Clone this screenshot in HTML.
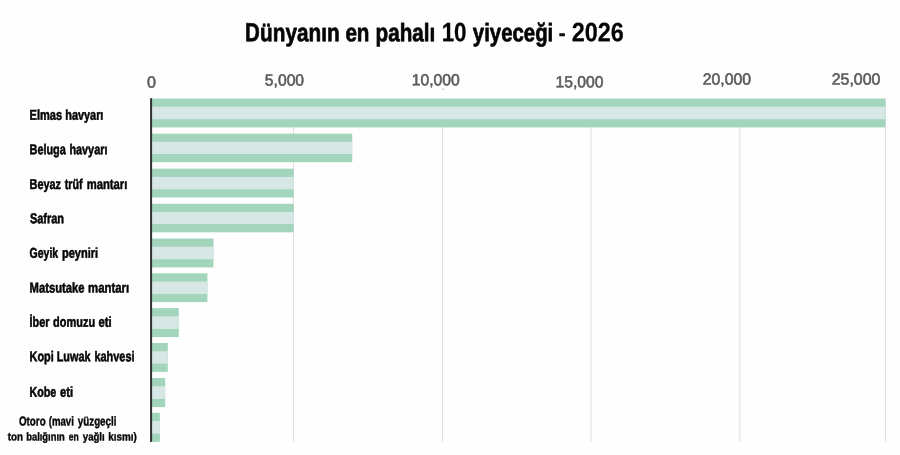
<!DOCTYPE html>
<html lang="tr">
<head>
<meta charset="utf-8">
<title>Dünyanın en pahalı 10 yiyeceği - 2026</title>
<style>
html,body{margin:0;padding:0;background:#fefefe;}
body{width:900px;height:455px;overflow:hidden;font-family:"Liberation Sans",sans-serif;}
svg{display:block;font-family:"Liberation Sans",sans-serif;}
#text{will-change:transform;}
</style>
</head>
<body>
<svg width="900" height="455" viewBox="0 0 900 455" role="img" aria-label="Dünyanın en pahalı 10 yiyeceği - 2026">
<rect width="900" height="455" fill="#fefefe"/>
<g id="grid-bars">
<rect x="293.00" y="98.4" width="1" height="343.5" fill="#dedede"/>
<rect x="441.90" y="98.4" width="1" height="343.5" fill="#dedede"/>
<rect x="590.50" y="98.4" width="1" height="343.5" fill="#dedede"/>
<rect x="739.30" y="98.4" width="1" height="343.5" fill="#dedede"/>
<rect x="885.00" y="98.4" width="1" height="343.5" fill="#dedede"/>
<rect x="151" y="98.50" width="734.40" height="28.90" fill="#a3d5bd"/>
<rect x="151" y="106.70" width="734.40" height="12.50" fill="#d6e7e5"/>
<rect x="151" y="133.60" width="201.20" height="28.60" fill="#a3d5bd"/>
<rect x="151" y="141.80" width="201.20" height="12.20" fill="#d6e7e5"/>
<rect x="151" y="168.70" width="142.60" height="28.80" fill="#a3d5bd"/>
<rect x="151" y="176.90" width="142.60" height="12.40" fill="#d6e7e5"/>
<rect x="151" y="203.80" width="142.60" height="28.50" fill="#a3d5bd"/>
<rect x="151" y="212.00" width="142.60" height="12.10" fill="#d6e7e5"/>
<rect x="151" y="238.50" width="62.50" height="28.90" fill="#a3d5bd"/>
<rect x="151" y="246.70" width="62.50" height="12.50" fill="#d6e7e5"/>
<rect x="151" y="273.30" width="56.40" height="28.80" fill="#a3d5bd"/>
<rect x="151" y="281.50" width="56.40" height="12.40" fill="#d6e7e5"/>
<rect x="151" y="308.10" width="27.80" height="29.00" fill="#a3d5bd"/>
<rect x="151" y="316.30" width="27.80" height="12.60" fill="#d6e7e5"/>
<rect x="151" y="343.00" width="16.80" height="28.90" fill="#a3d5bd"/>
<rect x="151" y="351.20" width="16.80" height="12.50" fill="#d6e7e5"/>
<rect x="151" y="378.00" width="14.20" height="29.10" fill="#a3d5bd"/>
<rect x="151" y="386.20" width="14.20" height="12.70" fill="#d6e7e5"/>
<rect x="151" y="412.80" width="8.90" height="29.10" fill="#a3d5bd"/>
<rect x="151" y="421.00" width="8.90" height="12.70" fill="#d6e7e5"/>
<rect x="150.1" y="98.2" width="2" height="343.7" fill="#303030"/>
<circle cx="443.2" cy="89.2" r="0.7" fill="#9a9a9a"/>
</g>
<g id="text">
<text transform="translate(244.93 41.30) scale(0.7821 1) rotate(0.03)" font-size="26.3" font-weight="bold" fill="#050505" stroke="#050505" stroke-width="0.6" stroke-linejoin="round">D</text>
<text transform="translate(260.07 41.30) scale(0.8201 1) rotate(0.03)" font-size="25.3" font-weight="bold" fill="#050505" stroke="#050505" stroke-width="0.7" stroke-linejoin="round">ünyanın</text>
<text transform="translate(345.39 41.30) scale(0.8145 1) rotate(0.03)" font-size="25.3" font-weight="bold" fill="#050505" stroke="#050505" stroke-width="0.7" stroke-linejoin="round">en</text>
<text transform="translate(375.58 41.30) scale(0.8170 1) rotate(0.03)" font-size="25.3" font-weight="bold" fill="#050505" stroke="#050505" stroke-width="0.7" stroke-linejoin="round">pahalı</text>
<text transform="translate(441.63 41.30) scale(0.8440 1) rotate(0.03)" font-size="26.6" font-weight="bold" fill="#050505" stroke="#050505" stroke-width="0.25" stroke-linejoin="round">10</text>
<text transform="translate(472.80 41.30) scale(0.8061 1) rotate(0.03)" font-size="25.3" font-weight="bold" fill="#050505" stroke="#050505" stroke-width="0.7" stroke-linejoin="round">yiyeceği</text>
<text transform="translate(558.44 41.30) scale(0.8615 1) rotate(0.03)" font-size="25.3" font-weight="bold" fill="#050505" stroke="#050505" stroke-width="0.1" stroke-linejoin="round">-</text>
<text transform="translate(571.74 41.30) scale(0.8800 1) rotate(0.03)" font-size="26.6" font-weight="bold" fill="#050505" stroke="#050505" stroke-width="0.25" stroke-linejoin="round">2026</text>
<text transform="translate(29.52 119.75) scale(0.7732 1) rotate(0.03)" font-size="14.3" font-weight="bold" fill="#050505" stroke="#050505" stroke-width="0.55" stroke-linejoin="round">Elmas</text>
<text transform="translate(65.23 119.75) scale(0.7631 1) rotate(0.03)" font-size="14.3" font-weight="bold" fill="#050505" stroke="#050505" stroke-width="0.55" stroke-linejoin="round">havyarı</text>
<text transform="translate(29.53 154.15) scale(0.7619 1) rotate(0.03)" font-size="14.3" font-weight="bold" fill="#050505" stroke="#050505" stroke-width="0.55" stroke-linejoin="round">Beluga</text>
<text transform="translate(69.43 154.15) scale(0.7590 1) rotate(0.03)" font-size="14.3" font-weight="bold" fill="#050505" stroke="#050505" stroke-width="0.55" stroke-linejoin="round">havyarı</text>
<text transform="translate(29.53 189.05) scale(0.7627 1) rotate(0.03)" font-size="14.3" font-weight="bold" fill="#050505" stroke="#050505" stroke-width="0.55" stroke-linejoin="round">Beyaz</text>
<text transform="translate(64.70 189.05) scale(0.7546 1) rotate(0.03)" font-size="14.3" font-weight="bold" fill="#050505" stroke="#050505" stroke-width="0.55" stroke-linejoin="round">trüf</text>
<text transform="translate(86.71 189.05) scale(0.7861 1) rotate(0.03)" font-size="14.3" font-weight="bold" fill="#050505" stroke="#050505" stroke-width="0.55" stroke-linejoin="round">mantarı</text>
<text transform="translate(29.91 223.25) scale(0.7680 1) rotate(0.03)" font-size="14.3" font-weight="bold" fill="#050505" stroke="#050505" stroke-width="0.55" stroke-linejoin="round">Safran</text>
<text transform="translate(29.52 257.75) scale(0.7359 1) rotate(0.03)" font-size="14.3" font-weight="bold" fill="#050505" stroke="#050505" stroke-width="0.55" stroke-linejoin="round">Geyik</text>
<text transform="translate(61.92 257.75) scale(0.7736 1) rotate(0.03)" font-size="14.3" font-weight="bold" fill="#050505" stroke="#050505" stroke-width="0.55" stroke-linejoin="round">peyniri</text>
<text transform="translate(29.51 292.55) scale(0.7870 1) rotate(0.03)" font-size="14.3" font-weight="bold" fill="#050505" stroke="#050505" stroke-width="0.55" stroke-linejoin="round">Matsutake</text>
<text transform="translate(88.10 292.55) scale(0.7960 1) rotate(0.03)" font-size="14.3" font-weight="bold" fill="#050505" stroke="#050505" stroke-width="0.55" stroke-linejoin="round">mantarı</text>
<text transform="translate(29.53 326.85) scale(0.7569 1) rotate(0.03)" font-size="14.3" font-weight="bold" fill="#050505" stroke="#050505" stroke-width="0.55" stroke-linejoin="round">İber</text>
<text transform="translate(53.11 326.85) scale(0.7667 1) rotate(0.03)" font-size="14.3" font-weight="bold" fill="#050505" stroke="#050505" stroke-width="0.55" stroke-linejoin="round">domuzu</text>
<text transform="translate(98.50 326.85) scale(0.7937 1) rotate(0.03)" font-size="14.3" font-weight="bold" fill="#050505" stroke="#050505" stroke-width="0.55" stroke-linejoin="round">eti</text>
<text transform="translate(29.53 361.25) scale(0.7636 1) rotate(0.03)" font-size="14.3" font-weight="bold" fill="#050505" stroke="#050505" stroke-width="0.55" stroke-linejoin="round">Kopi</text>
<text transform="translate(56.73 361.25) scale(0.7614 1) rotate(0.03)" font-size="14.3" font-weight="bold" fill="#050505" stroke="#050505" stroke-width="0.55" stroke-linejoin="round">Luwak</text>
<text transform="translate(94.43 361.25) scale(0.7647 1) rotate(0.03)" font-size="14.3" font-weight="bold" fill="#050505" stroke="#050505" stroke-width="0.55" stroke-linejoin="round">kahvesi</text>
<text transform="translate(29.54 396.85) scale(0.7482 1) rotate(0.03)" font-size="14.3" font-weight="bold" fill="#050505" stroke="#050505" stroke-width="0.55" stroke-linejoin="round">Kobe</text>
<text transform="translate(59.90 396.85) scale(0.7873 1) rotate(0.03)" font-size="14.3" font-weight="bold" fill="#050505" stroke="#050505" stroke-width="0.55" stroke-linejoin="round">eti</text>
<text transform="translate(18.91 425.50) scale(0.7679 1) rotate(0.03)" font-size="12.799999999999999" font-weight="bold" fill="#050505" stroke="#050505" stroke-width="0.4" stroke-linejoin="round">Otoro</text>
<text transform="translate(48.72 425.50) scale(0.7535 1) rotate(0.03)" font-size="12.799999999999999" font-weight="bold" fill="#050505" stroke="#050505" stroke-width="0.4" stroke-linejoin="round">(mavi</text>
<text transform="translate(77.80 425.50) scale(0.7658 1) rotate(0.03)" font-size="12.799999999999999" font-weight="bold" fill="#050505" stroke="#050505" stroke-width="0.4" stroke-linejoin="round">yüzgeçli</text>
<text transform="translate(7.80 440.60) scale(0.8580 1) rotate(0.03)" font-size="11.399999999999999" font-weight="bold" fill="#050505" stroke="#050505" stroke-width="0.4" stroke-linejoin="round">ton</text>
<text transform="translate(26.19 440.60) scale(0.8240 1) rotate(0.03)" font-size="11.399999999999999" font-weight="bold" fill="#050505" stroke="#050505" stroke-width="0.4" stroke-linejoin="round">balığının</text>
<text transform="translate(68.81 440.60) scale(0.7520 1) rotate(0.03)" font-size="11.399999999999999" font-weight="bold" fill="#050505" stroke="#050505" stroke-width="0.4" stroke-linejoin="round">en</text>
<text transform="translate(82.80 440.60) scale(0.8431 1) rotate(0.03)" font-size="11.399999999999999" font-weight="bold" fill="#050505" stroke="#050505" stroke-width="0.4" stroke-linejoin="round">yağlı</text>
<text transform="translate(108.17 440.60) scale(0.8656 1) rotate(0.03)" font-size="11.399999999999999" font-weight="bold" fill="#050505" stroke="#050505" stroke-width="0.4" stroke-linejoin="round">kısmı)</text>
<text transform="translate(147.05 87.60) scale(1.0061 1) rotate(0.03)" font-size="16.0" font-weight="normal" fill="#5c5c5c" stroke="#5c5c5c" stroke-width="0.6" stroke-linejoin="round">0</text>
<text transform="translate(264.86 85.50) scale(0.9797 1) rotate(0.03)" font-size="16.0" font-weight="normal" fill="#5c5c5c" stroke="#5c5c5c" stroke-width="0.6" stroke-linejoin="round">5,000</text>
<text transform="translate(411.72 85.35) scale(0.9801 1) rotate(0.03)" font-size="16.0" font-weight="normal" fill="#5c5c5c" stroke="#5c5c5c" stroke-width="0.6" stroke-linejoin="round">10,000</text>
<text transform="translate(555.52 87.30) scale(0.9822 1) rotate(0.03)" font-size="16.0" font-weight="normal" fill="#5c5c5c" stroke="#5c5c5c" stroke-width="0.6" stroke-linejoin="round">15,000</text>
<text transform="translate(702.71 84.45) scale(0.9886 1) rotate(0.03)" font-size="16.0" font-weight="normal" fill="#5c5c5c" stroke="#5c5c5c" stroke-width="0.6" stroke-linejoin="round">20,000</text>
<text transform="translate(831.70 84.45) scale(0.9948 1) rotate(0.03)" font-size="16.0" font-weight="normal" fill="#5c5c5c" stroke="#5c5c5c" stroke-width="0.6" stroke-linejoin="round">25,000</text>
</g>
</svg>
</body>
</html>
